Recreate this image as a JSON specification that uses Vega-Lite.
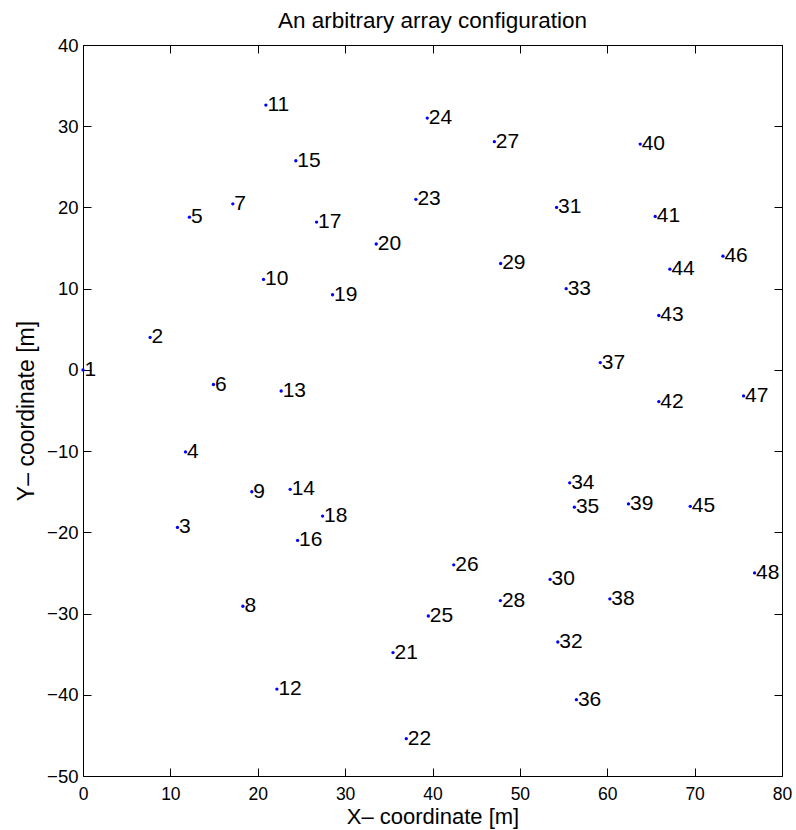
{
  "$schema": "https://vega.github.io/schema/vega-lite/v6.json",
  "autosize": {"type": "none"},
  "padding": {"left": 83, "top": 45, "right": 14, "bottom": 54},
  "width": 699,
  "height": 731,
  "background": "white",
  "title": {
    "text": "An arbitrary array configuration",
    "frame": "group",
    "anchor": "middle",
    "baseline": "alphabetic",
    "offset": 17,
    "dy": 31,
    "font": "Liberation Sans",
    "fontSize": 22.5,
    "fontWeight": "normal",
    "color": "#000000"
  },
  "config": {
    "view": {"stroke": null},
    "axis": {
      "grid": false,
      "domainColor": "#000000",
      "domainWidth": 1,
      "tickColor": "#000000",
      "tickWidth": 1,
      "tickSize": -8,
      "labelFont": "Liberation Sans",
      "labelFontSize": 18.5,
      "labelColor": "#000000",
      "labelFlush": false,
      "labelOverlap": false,
      "titleFont": "Liberation Sans",
      "titleFontSize": 23,
      "titleFontWeight": "normal",
      "titleColor": "#000000"
    }
  },
  "data": {
    "values": [
      {"n": 1, "label": "\u00a01", "x": 0, "y": 0},
      {"n": 2, "label": "\u00a02", "x": 7.68, "y": 4.0},
      {"n": 3, "label": "\u00a03", "x": 10.81, "y": -19.4},
      {"n": 4, "label": "\u00a04", "x": 11.73, "y": -10.1},
      {"n": 5, "label": "\u00a05", "x": 12.18, "y": 18.8},
      {"n": 6, "label": "\u00a06", "x": 14.93, "y": -1.8},
      {"n": 7, "label": "\u00a07", "x": 17.15, "y": 20.45},
      {"n": 8, "label": "\u00a08", "x": 18.3, "y": -29.1},
      {"n": 9, "label": "\u00a09", "x": 19.32, "y": -15.0},
      {"n": 10, "label": "10", "x": 20.66, "y": 11.14},
      {"n": 11, "label": "11", "x": 20.93, "y": 32.6},
      {"n": 12, "label": "12", "x": 22.19, "y": -39.3},
      {"n": 13, "label": "13", "x": 22.68, "y": -2.6},
      {"n": 14, "label": "14", "x": 23.71, "y": -14.7},
      {"n": 15, "label": "15", "x": 24.36, "y": 25.75},
      {"n": 16, "label": "16", "x": 24.56, "y": -21.0},
      {"n": 17, "label": "17", "x": 26.73, "y": 18.2},
      {"n": 18, "label": "18", "x": 27.42, "y": -18.0},
      {"n": 19, "label": "19", "x": 28.56, "y": 9.25},
      {"n": 20, "label": "20", "x": 33.56, "y": 15.5},
      {"n": 21, "label": "21", "x": 35.48, "y": -34.8},
      {"n": 22, "label": "22", "x": 37.0, "y": -45.4},
      {"n": 23, "label": "23", "x": 38.1, "y": 21.0},
      {"n": 24, "label": "24", "x": 39.4, "y": 31.0},
      {"n": 25, "label": "25", "x": 39.52, "y": -30.3},
      {"n": 26, "label": "26", "x": 42.43, "y": -24.0},
      {"n": 27, "label": "27", "x": 47.08, "y": 28.1},
      {"n": 28, "label": "28", "x": 47.77, "y": -28.4},
      {"n": 29, "label": "29", "x": 47.8, "y": 13.1},
      {"n": 30, "label": "30", "x": 53.46, "y": -25.8},
      {"n": 31, "label": "31", "x": 54.2, "y": 20.0},
      {"n": 32, "label": "32", "x": 54.34, "y": -33.5},
      {"n": 33, "label": "33", "x": 55.3, "y": 10.0},
      {"n": 34, "label": "34", "x": 55.7, "y": -13.9},
      {"n": 35, "label": "35", "x": 56.24, "y": -16.9},
      {"n": 36, "label": "36", "x": 56.47, "y": -40.6},
      {"n": 37, "label": "37", "x": 59.2, "y": 0.9},
      {"n": 38, "label": "38", "x": 60.3, "y": -28.2},
      {"n": 39, "label": "39", "x": 62.43, "y": -16.5},
      {"n": 40, "label": "40", "x": 63.77, "y": 27.8},
      {"n": 41, "label": "41", "x": 65.49, "y": 18.9},
      {"n": 42, "label": "42", "x": 65.9, "y": -3.9},
      {"n": 43, "label": "43", "x": 65.9, "y": 6.7},
      {"n": 44, "label": "44", "x": 67.17, "y": 12.4},
      {"n": 45, "label": "45", "x": 69.5, "y": -16.8},
      {"n": 46, "label": "46", "x": 73.24, "y": 14.0},
      {"n": 47, "label": "47", "x": 75.6, "y": -3.2},
      {"n": 48, "label": "48", "x": 76.86, "y": -25.0}
    ]
  },
  "layer": [
    {
      "mark": {"type": "point", "filled": true, "size": 11, "color": "#0000ff", "opacity": 1},
      "encoding": {
        "x": {
          "field": "x", "type": "quantitative",
          "scale": {"domain": [0, 80], "nice": false, "zero": false},
          "axis": {
            "orient": "bottom",
            "values": [0, 10, 20, 30, 40, 50, 60, 70, 80],
            "labelFontSize": 17.5,
            "labelPadding": 17,
            "title": "X\u2013 coordinate [m]",
            "titleFontSize": 22,
            "titleBaseline": "alphabetic",
            "titleY": 47
          }
        },
        "y": {
          "field": "y", "type": "quantitative",
          "scale": {"domain": [-50, 40], "nice": false, "zero": false},
          "axis": {
            "orient": "left",
            "values": [-50, -40, -30, -20, -10, 0, 10, 20, 30, 40],
            "labelPadding": 13,
            "title": "Y\u2013 coordinate [m]",
            "titleBaseline": "alphabetic",
            "titleX": -50
          }
        }
      }
    },
    {
      "mark": {"type": "point", "opacity": 0},
      "encoding": {
        "x": {
          "field": "x", "type": "quantitative",
          "scale": {"domain": [0, 80], "nice": false, "zero": false},
          "axis": {"orient": "top", "values": [0, 10, 20, 30, 40, 50, 60, 70, 80], "labels": false, "title": null}
        },
        "y": {
          "field": "y", "type": "quantitative",
          "scale": {"domain": [-50, 40], "nice": false, "zero": false},
          "axis": {"orient": "right", "values": [-50, -40, -30, -20, -10, 0, 10, 20, 30, 40], "labels": false, "title": null}
        }
      }
    },
    {
      "mark": {"type": "text", "align": "left", "baseline": "middle", "dx": 1.5, "font": "Liberation Sans", "fontSize": 21, "color": "#000000"},
      "encoding": {
        "x": {"field": "x", "type": "quantitative", "axis": null},
        "y": {"field": "y", "type": "quantitative", "axis": null},
        "text": {"field": "label", "type": "nominal"}
      }
    }
  ],
  "resolve": {"axis": {"x": "independent", "y": "independent"}}
}
